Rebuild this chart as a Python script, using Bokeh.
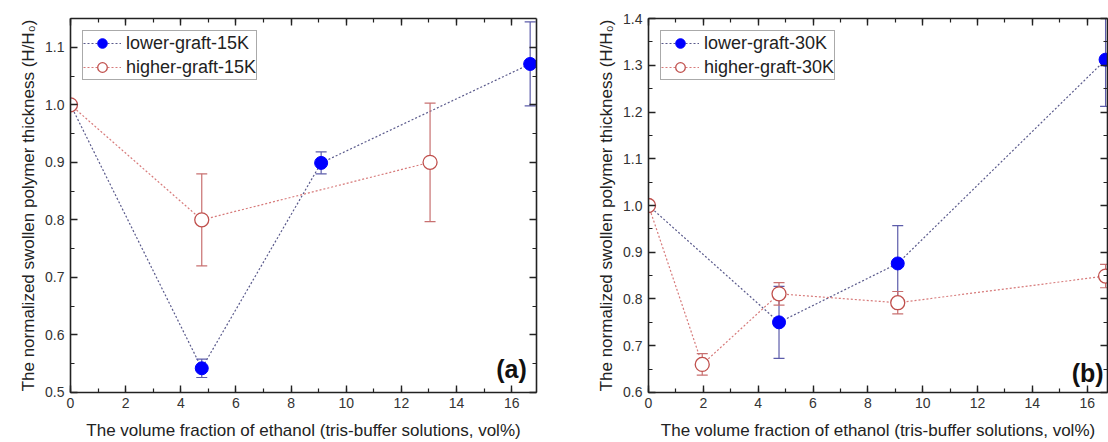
from bokeh.plotting import figure
from bokeh.models import (ColumnDataSource, Legend, LegendItem,
                          LinearAxis, SingleIntervalTicker, NumeralTickFormatter, Range1d, Label,
                          CustomJSTickFormatter)
from bokeh.layouts import row
from bokeh.embed import file_html
from bokeh.resources import INLINE

FONT = "Liberation Sans"

# ---- Panel (a) data ----
a_low_label = "lower-graft-15K"
a_low_x = [0, 4.76, 9.09, 16.67]
a_low_y = [1.0, 0.542, 0.899, 1.071]
a_low_err = [0, 0.016, 0.019, 0.073]

a_high_label = "higher-graft-15K"
a_high_x = [0, 4.76, 13.04]
a_high_y = [1.0, 0.80, 0.90]
a_high_err = [0, 0.08, 0.103]

# ---- Panel (b) data ----
b_low_label = "lower-graft-30K"
b_low_x = [0, 4.76, 9.09, 16.67]
b_low_y = [1.0, 0.75, 0.876, 1.312]
b_low_err = [0, 0.077, 0.081, 0.10]

b_high_label = "higher-graft-30K"
b_high_x = [0, 1.96, 4.76, 9.09, 16.67]
b_high_y = [1.0, 0.66, 0.811, 0.792, 0.849]
b_high_err = [0, 0.023, 0.024, 0.024, 0.025]

x_title = "The volume fraction of ethanol (tris-buffer solutions, vol%)"
y_title = "The normalized swollen polymer thickness (H/H\u2080)"

BLUE = "#0000ff"
BLUE_LINE = "#5a5a8c"
BLUE_ERR = "#5c5caa"
RED = "#c0504d"
RED_LINE = "#d77a7a"
RED_ERR = "#c87070"


def style_axis(ax, show_labels=True):
    ax.axis_line_color = "#222222"
    ax.axis_line_width = 1.6
    ax.major_tick_line_color = "#222222"
    ax.minor_tick_line_color = "#222222"
    ax.major_tick_line_width = 1.4
    ax.minor_tick_line_width = 1.2
    ax.major_tick_in = 7
    ax.major_tick_out = 0
    ax.minor_tick_in = 4
    ax.minor_tick_out = 0
    if show_labels:
        ax.major_label_text_font = FONT
        ax.major_label_text_font_size = "14px"
        ax.major_label_text_color = "#333333"
        ax.major_label_standoff = 6
        ax.axis_label_text_font = FONT
        ax.axis_label_text_font_size = "17px"
        ax.axis_label_text_font_style = "normal"
        ax.axis_label_text_color = "#222222"
    else:
        ax.formatter = CustomJSTickFormatter(code="return '';")
        ax.major_label_standoff = 0


def add_series(p, xs, ys, errs, label, filled):
    src = ColumnDataSource(dict(
        x=xs, y=ys,
        upper=[y + e for y, e in zip(ys, errs)],
        lower=[y - e for y, e in zip(ys, errs)],
    ))
    lc = BLUE_LINE if filled else RED_LINE
    ec = BLUE_ERR if filled else RED_ERR
    line = p.line("x", "y", source=src, line_color=lc, line_width=1.2, line_dash="2 2")
    p.segment(x0="x", y0="lower", x1="x", y1="upper", source=src,
              line_color=ec, line_width=1.2)
    p.scatter("x", "upper", source=src, marker="dash", size=11, line_color=ec, line_width=1.2)
    p.scatter("x", "lower", source=src, marker="dash", size=11, line_color=ec, line_width=1.2)
    if filled:
        sc = p.scatter("x", "y", source=src, marker="circle", size=13,
                       fill_color=BLUE, line_color=BLUE, line_width=1)
    else:
        sc = p.scatter("x", "y", source=src, marker="circle", size=14,
                       fill_color="white", line_color=RED, line_width=1.3)
    return LegendItem(label=label, renderers=[line, sc])


def make_panel(width, border_left, border_right, xr, yr, series, tag, tag_x, tag_y):
    p = figure(width=width, height=442, output_backend="svg", toolbar_location=None,
               x_range=Range1d(*xr), y_range=Range1d(*yr),
               min_border_left=border_left, min_border_right=border_right,
               min_border_top=18, min_border_bottom=50)
    p.xgrid.grid_line_color = None
    p.ygrid.grid_line_color = None
    p.outline_line_color = None
    p.background_fill_color = "white"
    p.border_fill_color = "white"

    p.xaxis.ticker = SingleIntervalTicker(interval=2, num_minor_ticks=2)
    p.yaxis.ticker = SingleIntervalTicker(interval=0.1, num_minor_ticks=2)
    p.yaxis.formatter = NumeralTickFormatter(format="0.0")
    p.xaxis.axis_label = x_title
    p.yaxis.axis_label = y_title
    p.xaxis.axis_label_standoff = 10
    p.yaxis.axis_label_standoff = 4
    for ax in p.xaxis + p.yaxis:
        style_axis(ax)
    p.xaxis.major_label_standoff = 5

    top = LinearAxis(ticker=SingleIntervalTicker(interval=2, num_minor_ticks=2))
    style_axis(top, show_labels=False)
    p.add_layout(top, "above")
    right = LinearAxis(ticker=SingleIntervalTicker(interval=0.1, num_minor_ticks=2))
    style_axis(right, show_labels=False)
    p.add_layout(right, "right")

    items = []
    for (xs, ys, errs, label, filled) in series:
        items.append(add_series(p, xs, ys, errs, label, filled))
    leg = Legend(items=items, location="top_left",
                 label_text_font=FONT, label_text_font_size="18px",
                 label_text_color="#222222",
                 border_line_color="#555555", border_line_width=1,
                 background_fill_alpha=1.0,
                 glyph_width=38, glyph_height=24, label_height=20, spacing=-4, padding=0,
                 label_standoff=5, margin=12)
    p.add_layout(leg)

    p.add_layout(Label(x=tag_x, y=tag_y, text=tag, text_align="right",
                       text_baseline="alphabetic", text_font=FONT,
                       text_font_style="bold", text_font_size="25px",
                       text_color="#111111"))
    return p


pa = make_panel(548, 70, 12, (0, 16.9), (0.4999, 1.15),
                [(a_low_x, a_low_y, a_low_err, a_low_label, True),
                 (a_high_x, a_high_y, a_high_err, a_high_label, False)],
                "(a)", 16.55, 0.54)

pb = make_panel(560, 100, 1, (0, 16.74), (0.5999, 1.4001),
                [(b_low_x, b_low_y, b_low_err, b_low_label, True),
                 (b_high_x, b_high_y, b_high_err, b_high_label, False)],
                "(b)", 16.6, 0.642)

layout = row(pa, pb)
open("out.html", "w").write(file_html(layout, INLINE))
